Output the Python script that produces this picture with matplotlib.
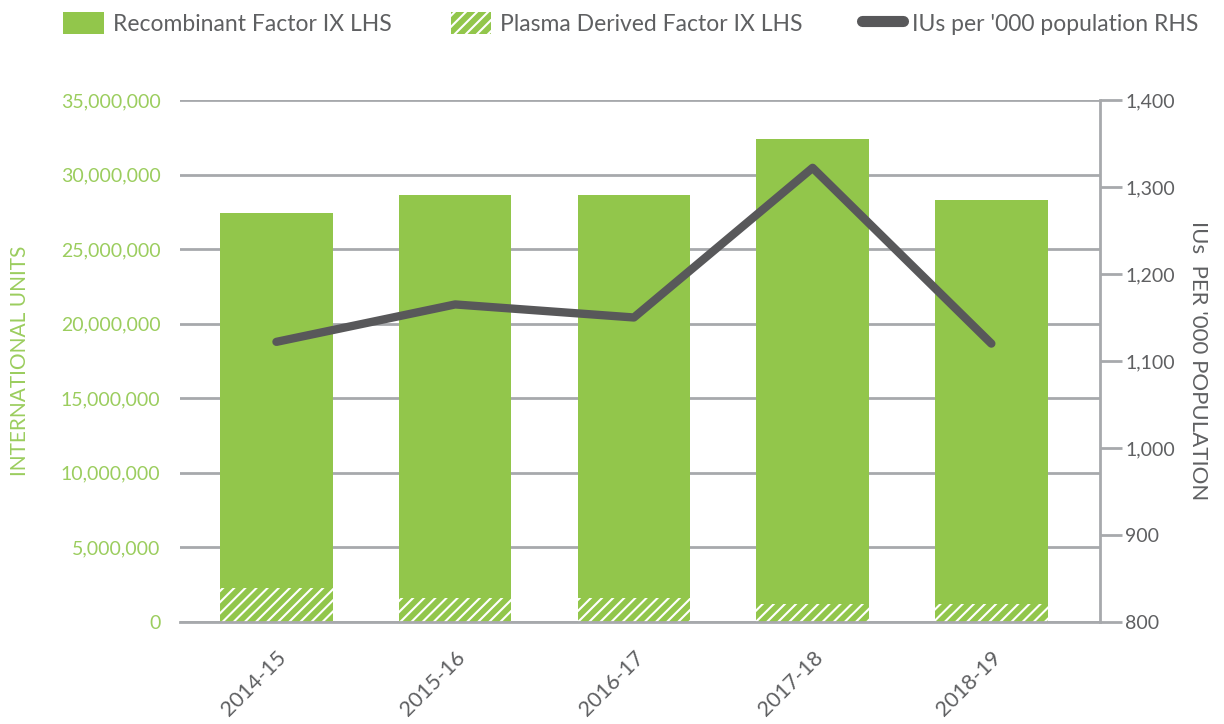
import matplotlib.pyplot as plt
from matplotlib.patches import Patch
from matplotlib.lines import Line2D
from matplotlib.ticker import FuncFormatter

plt.rcParams['font.family'] = ['Lato', 'DejaVu Sans']
plt.rcParams['hatch.linewidth'] = 1.5

# dane
years = ['2014-15', '2015-16', '2016-17', '2017-18', '2018-19']
plasma = [2300000, 1600000, 1600000, 1200000, 1200000]
recombinant = [25100000, 27000000, 27000000, 31200000, 27100000]
ius_per_1000 = [1122, 1165, 1150, 1322, 1120]

green = '#92c64b'
green_txt = '#9bcd5e'
grey_line = '#58585a'
grid_col = '#a7a9ac'
grey_txt = '#5f6062'

fig = plt.figure(figsize=(12.24, 7.24), dpi=100)
ax = fig.add_axes([0.147, 0.1409, 0.752, 0.721])
ax2 = ax.twinx()

x = list(range(len(years)))
w = 0.63

# slupki
ax.bar(x, plasma, width=w, color=green, edgecolor='white', linewidth=0, hatch='///', zorder=2)
ax.bar(x, recombinant, width=w, bottom=plasma, color=green, linewidth=0, zorder=2)

ax.set_ylim(0, 35000000)
ax.set_xlim(-0.54, 4.61)
ax.set_yticks(range(0, 35000001, 5000000))
ax.yaxis.set_major_formatter(FuncFormatter(lambda v, p: f'{int(v):,}'))
ax.yaxis.grid(True, color=grid_col, linewidth=2, zorder=0)
ax.set_axisbelow(True)
ax.tick_params(axis='y', length=0, pad=14, labelsize=14, labelcolor=green_txt)
ax.set_xticks(x)
ax.set_xticklabels(years, rotation=45, ha='right', rotation_mode='anchor')
ax.tick_params(axis='x', length=0, pad=18, labelsize=15.5, labelcolor=grey_txt)
ax.set_ylabel('INTERNATIONAL UNITS', color=green_txt, fontsize=15, labelpad=22)
for s in ['top', 'left', 'right']:
    ax.spines[s].set_visible(False)
ax.spines['bottom'].set_color(grid_col)
ax.spines['bottom'].set_linewidth(2)

# linia
ax2.plot(x, ius_per_1000, color=grey_line, linewidth=6, solid_capstyle='round', zorder=3)
ax2.set_ylim(800, 1400)
ax2.set_yticks(range(800, 1401, 100))
ax2.yaxis.set_major_formatter(FuncFormatter(lambda v, p: f'{int(v):,}'))
ax2.tick_params(axis='y', direction='out', length=16, width=2, color=grid_col,
                labelsize=14, labelcolor=grey_txt, pad=2)
ax2.set_ylabel("IUs  PER '000 POPULATION", color=grey_txt, fontsize=16,
               rotation=-90, labelpad=24)
for s in ['top', 'left', 'bottom']:
    ax2.spines[s].set_visible(False)
ax2.spines['right'].set_color(grid_col)
ax2.spines['right'].set_linewidth(2)

# legenda
handles = [
    Patch(facecolor=green, edgecolor='none'),
    Patch(facecolor=green, edgecolor='white', hatch='///', linewidth=0),
    Line2D([0], [0], color=grey_line, linewidth=8, solid_capstyle='round'),
]
labels = ['Recombinant Factor IX LHS', 'Plasma Derived Factor IX LHS',
          "IUs per '000 population RHS"]
leg = fig.legend(handles, labels, loc='upper left', bbox_to_anchor=(0.035, 1.012),
                 ncol=3, frameon=False, fontsize=16.5, handlelength=1.75,
                 handleheight=1.1, columnspacing=2.6, handletextpad=0.4)
for t in leg.get_texts():
    t.set_color(grey_txt)

fig.savefig('out.png', dpi=100)
